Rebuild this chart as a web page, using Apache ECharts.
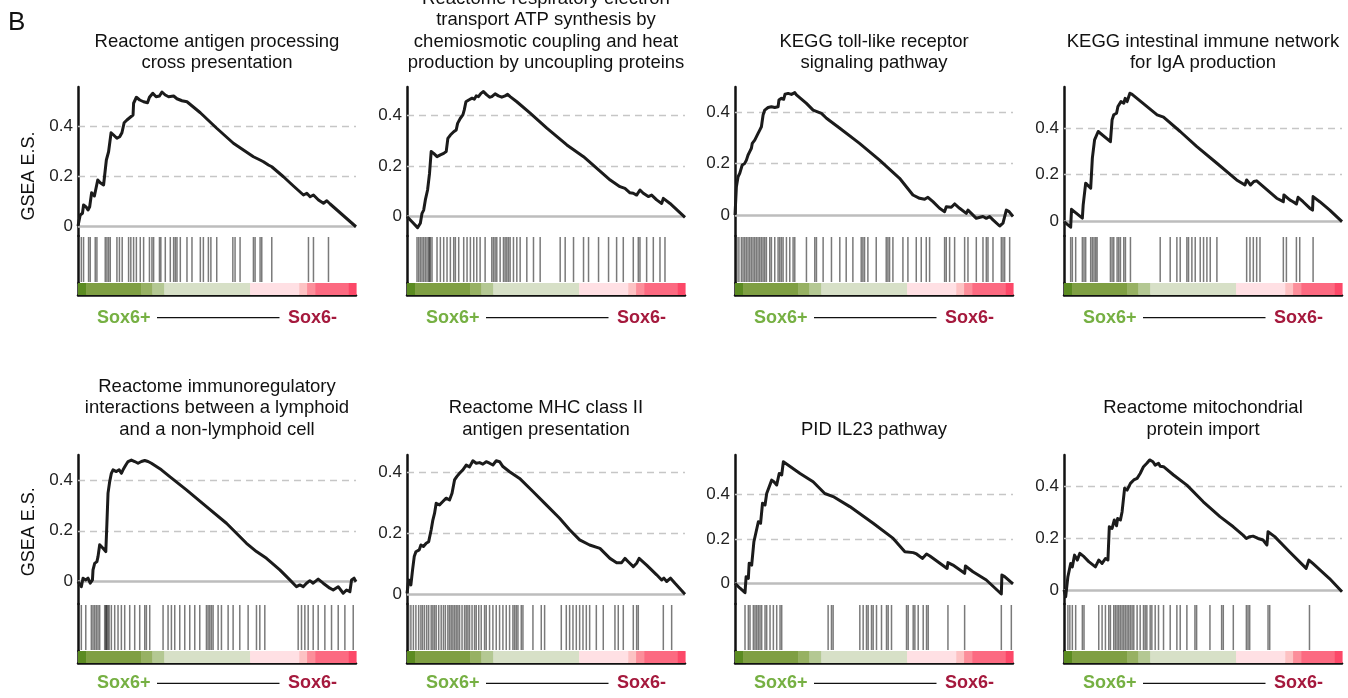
<!DOCTYPE html>
<html><head><meta charset="utf-8">
<script src="https://cdn.jsdelivr.net/npm/echarts@6/dist/echarts.min.js"></script>
<style>html,body{margin:0;padding:0;background:#fff}#c{width:1348px;height:698px}</style>
</head><body><div id="c"></div>
<script>
const FONT = "'Liberation Sans', Arial, Helvetica, sans-serif";

const titles = [
  'Reactome antigen processing\ncross presentation',
  'Reactome respiratory electron\ntransport ATP synthesis by\nchemiosmotic coupling and heat\nproduction by uncoupling proteins',
  'KEGG toll-like receptor\nsignaling pathway',
  'KEGG intestinal immune network\nfor IgA production',
  'Reactome immunoregulatory\ninteractions between a lymphoid\nand a non-lymphoid cell',
  'Reactome MHC class II\nantigen presentation',
  'PID IL23 pathway',
  'Reactome mitochondrial\nprotein import'
];
const yTickValues = [0, 0.2, 0.4];
const groupLabels = ['Sox6+', 'Sox6-'];
const yAxisTitle = 'GSEA E.S.';

// running enrichment score: [rank fraction, ES]
const es1 = [[0,0],[0.008,0.044],[0.016,0.051],[0.020,0.084],[0.030,0.075],[0.036,0.064],[0.042,0.077],[0.049,0.133],[0.059,0.120],[0.065,0.124],[0.071,0.184],[0.080,0.173],[0.092,0.164],[0.099,0.157],[0.102,0.264],[0.110,0.297],[0.119,0.373],[0.128,0.364],[0.140,0.351],[0.150,0.357],[0.158,0.373],[0.166,0.413],[0.176,0.424],[0.188,0.435],[0.198,0.444],[0.200,0.491],[0.210,0.515],[0.222,0.504],[0.236,0.497],[0.250,0.493],[0.257,0.515],[0.269,0.531],[0.281,0.517],[0.293,0.520],[0.302,0.536],[0.314,0.524],[0.326,0.517],[0.344,0.520],[0.356,0.509],[0.374,0.501],[0.392,0.497],[0.440,0.453],[0.499,0.391],[0.559,0.331],[0.631,0.277],[0.655,0.264],[0.667,0.257],[0.685,0.244],[0.697,0.237],[0.739,0.197],[0.775,0.160],[0.811,0.124],[0.823,0.131],[0.835,0.117],[0.847,0.124],[0.865,0.104],[0.883,0.091],[0.895,0.101],[0.907,0.088],[1,-0.003]];
const es2 = [[0,0],[0.018,-0.020],[0.038,-0.043],[0.048,-0.026],[0.054,0.013],[0.060,0.026],[0.066,0.066],[0.074,0.105],[0.081,0.170],[0.087,0.256],[0.096,0.249],[0.108,0.236],[0.120,0.243],[0.132,0.249],[0.141,0.256],[0.147,0.308],[0.156,0.321],[0.168,0.334],[0.177,0.341],[0.182,0.367],[0.192,0.387],[0.201,0.400],[0.206,0.420],[0.212,0.452],[0.222,0.459],[0.234,0.466],[0.242,0.462],[0.249,0.475],[0.257,0.472],[0.266,0.485],[0.275,0.492],[0.287,0.479],[0.297,0.470],[0.305,0.472],[0.317,0.483],[0.329,0.475],[0.341,0.470],[0.353,0.475],[0.362,0.481],[0.371,0.472],[0.395,0.452],[0.443,0.407],[0.503,0.348],[0.575,0.282],[0.635,0.236],[0.683,0.190],[0.731,0.144],[0.766,0.118],[0.784,0.111],[0.802,0.094],[0.814,0.092],[0.826,0.085],[0.838,0.105],[0.850,0.092],[0.868,0.079],[0.880,0.085],[0.898,0.066],[0.916,0.052],[0.922,0.072],[0.946,0.052],[1,-0.003]];
const es3 = [[0,0],[0.005,0.110],[0.011,0.149],[0.017,0.162],[0.023,0.156],[0.026,0.195],[0.035,0.201],[0.041,0.214],[0.047,0.234],[0.053,0.247],[0.059,0.260],[0.062,0.279],[0.071,0.292],[0.077,0.299],[0.083,0.318],[0.089,0.331],[0.095,0.344],[0.101,0.390],[0.107,0.409],[0.119,0.419],[0.131,0.422],[0.143,0.419],[0.155,0.422],[0.158,0.448],[0.167,0.455],[0.175,0.451],[0.180,0.471],[0.191,0.474],[0.203,0.470],[0.215,0.477],[0.221,0.468],[0.257,0.435],[0.281,0.409],[0.311,0.396],[0.329,0.377],[0.377,0.338],[0.448,0.279],[0.520,0.214],[0.592,0.143],[0.640,0.078],[0.664,0.065],[0.682,0.061],[0.694,0.069],[0.712,0.052],[0.736,0.026],[0.754,0.013],[0.760,0.032],[0.778,0.030],[0.790,0.043],[0.808,0.026],[0.832,0.006],[0.838,0.019],[0.850,0.006],[0.868,-0.013],[0.892,-0.006],[0.904,-0.013],[0.916,-0.006],[0.928,-0.019],[0.952,-0.043],[0.964,-0.032],[0.976,0.019],[0.986,0.013],[1,-0.006]];
const es4 = [[0,-0.003],[0.024,-0.027],[0.027,0.050],[0.066,0.012],[0.069,0.069],[0.075,0.062],[0.078,0.163],[0.096,0.141],[0.102,0.271],[0.108,0.263],[0.110,0.350],[0.116,0.342],[0.123,0.386],[0.167,0.342],[0.173,0.436],[0.179,0.458],[0.189,0.465],[0.194,0.494],[0.201,0.486],[0.205,0.515],[0.215,0.508],[0.220,0.529],[0.227,0.515],[0.237,0.551],[0.245,0.546],[0.335,0.458],[0.358,0.448],[0.418,0.386],[0.478,0.321],[0.550,0.249],[0.621,0.177],[0.651,0.155],[0.657,0.177],[0.671,0.155],[0.683,0.170],[0.693,0.173],[0.717,0.148],[0.765,0.098],[0.789,0.083],[0.791,0.112],[0.812,0.091],[0.824,0.083],[0.836,0.073],[0.842,0.102],[0.860,0.083],[0.884,0.055],[0.894,0.047],[0.896,0.105],[0.920,0.083],[0.956,0.047],[1,-0.003]];
const es5 = [[0,-0.003],[0.012,-0.023],[0.018,0.011],[0.028,0.004],[0.036,0.011],[0.044,-0.009],[0.052,0.004],[0.054,0.044],[0.060,0.070],[0.068,0.077],[0.072,0.097],[0.078,0.144],[0.090,0.130],[0.100,0.117],[0.104,0.230],[0.108,0.350],[0.114,0.396],[0.120,0.429],[0.126,0.443],[0.138,0.436],[0.148,0.443],[0.156,0.429],[0.162,0.443],[0.172,0.462],[0.180,0.476],[0.192,0.482],[0.204,0.476],[0.216,0.469],[0.228,0.476],[0.240,0.480],[0.252,0.476],[0.264,0.469],[0.282,0.456],[0.300,0.443],[0.330,0.416],[0.390,0.363],[0.462,0.296],[0.534,0.230],[0.606,0.150],[0.642,0.117],[0.678,0.090],[0.726,0.044],[0.762,0.004],[0.786,-0.023],[0.798,-0.016],[0.810,-0.023],[0.822,-0.009],[0.834,0.001],[0.846,-0.009],[0.864,0.007],[0.882,-0.009],[0.906,-0.029],[0.918,-0.036],[0.936,-0.023],[0.954,-0.049],[0.966,-0.036],[0.978,-0.043],[0.984,0.004],[0.993,0.011],[1,-0.003]];
const es6 = [[0,0.003],[0.006,0.047],[0.014,0.031],[0.020,0.080],[0.026,0.124],[0.032,0.140],[0.038,0.135],[0.044,0.146],[0.050,0.162],[0.059,0.157],[0.069,0.168],[0.078,0.173],[0.087,0.212],[0.093,0.244],[0.099,0.266],[0.105,0.299],[0.117,0.294],[0.129,0.305],[0.141,0.316],[0.153,0.310],[0.162,0.332],[0.171,0.376],[0.179,0.387],[0.189,0.398],[0.201,0.409],[0.213,0.425],[0.225,0.419],[0.237,0.439],[0.249,0.431],[0.261,0.433],[0.273,0.428],[0.285,0.436],[0.297,0.431],[0.309,0.425],[0.321,0.439],[0.333,0.436],[0.345,0.420],[0.369,0.403],[0.405,0.381],[0.453,0.338],[0.501,0.294],[0.549,0.250],[0.585,0.212],[0.621,0.179],[0.657,0.162],[0.694,0.151],[0.730,0.118],[0.754,0.104],[0.772,0.104],[0.784,0.118],[0.796,0.107],[0.814,0.091],[0.826,0.102],[0.835,0.118],[0.862,0.096],[0.898,0.064],[0.916,0.047],[0.924,0.053],[0.934,0.042],[0.948,0.053],[0.964,0.036],[1,0]];
const es7 = [[0,0],[0.018,-0.022],[0.036,-0.042],[0.040,0.030],[0.048,0.022],[0.051,0.090],[0.060,0.082],[0.068,0.187],[0.075,0.180],[0.084,0.277],[0.092,0.270],[0.099,0.360],[0.108,0.352],[0.114,0.404],[0.120,0.397],[0.132,0.464],[0.140,0.457],[0.150,0.442],[0.159,0.494],[0.168,0.487],[0.174,0.547],[0.180,0.539],[0.234,0.494],[0.281,0.457],[0.323,0.404],[0.353,0.390],[0.413,0.345],[0.497,0.270],[0.569,0.202],[0.611,0.142],[0.641,0.138],[0.653,0.132],[0.674,0.112],[0.689,0.132],[0.701,0.123],[0.763,0.067],[0.766,0.093],[0.784,0.082],[0.826,0.045],[0.829,0.078],[0.856,0.052],[0.904,0.015],[0.958,-0.048],[0.960,0.037],[0.970,0.030],[1,-0.003]];
const es8 = [[0,0.003],[0.006,-0.023],[0.012,-0.017],[0.014,0.054],[0.020,0.060],[0.024,0.105],[0.030,0.092],[0.038,0.137],[0.048,0.118],[0.057,0.144],[0.072,0.131],[0.089,0.112],[0.113,0.092],[0.125,0.118],[0.137,0.105],[0.149,0.124],[0.158,0.118],[0.163,0.246],[0.173,0.240],[0.181,0.272],[0.189,0.250],[0.193,0.278],[0.203,0.272],[0.209,0.304],[0.215,0.310],[0.218,0.394],[0.227,0.387],[0.239,0.413],[0.251,0.426],[0.263,0.432],[0.274,0.451],[0.286,0.477],[0.298,0.490],[0.308,0.503],[0.320,0.496],[0.328,0.483],[0.340,0.490],[0.346,0.479],[0.358,0.477],[0.394,0.445],[0.442,0.406],[0.501,0.342],[0.561,0.285],[0.609,0.246],[0.644,0.214],[0.656,0.201],[0.668,0.208],[0.680,0.210],[0.698,0.201],[0.716,0.195],[0.730,0.176],[0.734,0.227],[0.758,0.208],[0.811,0.150],[0.871,0.086],[0.881,0.118],[0.895,0.105],[0.955,0.047],[1,-0.004]];

// gene-set hit positions (rank fraction)
const hits1 = [0.012,0.020,0.038,0.044,0.062,0.068,0.098,0.104,0.110,0.116,0.140,0.149,0.159,0.182,0.190,0.200,0.210,0.224,0.236,0.257,0.266,0.272,0.293,0.298,0.314,0.332,0.344,0.350,0.356,0.368,0.392,0.410,0.440,0.451,0.469,0.478,0.499,0.557,0.565,0.583,0.631,0.637,0.655,0.661,0.697,0.829,0.847,0.901];
const hits2 = [0.036,0.042,0.048,0.054,0.060,0.066,0.072,0.078,0.081,0.084,0.090,0.108,0.120,0.132,0.144,0.156,0.168,0.174,0.186,0.204,0.216,0.228,0.240,0.251,0.263,0.281,0.305,0.311,0.317,0.323,0.335,0.347,0.353,0.359,0.365,0.371,0.383,0.395,0.407,0.431,0.455,0.479,0.551,0.569,0.599,0.635,0.653,0.689,0.725,0.754,0.778,0.814,0.832,0.838,0.862,0.886,0.910,0.928];
const hits3 = [0.007,0.014,0.023,0.029,0.035,0.041,0.047,0.053,0.059,0.065,0.071,0.077,0.083,0.089,0.095,0.101,0.107,0.113,0.125,0.131,0.143,0.155,0.161,0.167,0.173,0.185,0.197,0.209,0.215,0.257,0.287,0.293,0.317,0.347,0.377,0.400,0.424,0.454,0.460,0.466,0.478,0.508,0.544,0.550,0.556,0.568,0.604,0.622,0.652,0.670,0.688,0.700,0.754,0.760,0.772,0.790,0.826,0.838,0.868,0.892,0.904,0.910,0.928,0.958,0.964,0.970,0.988];
const hits4 = [0.024,0.030,0.042,0.066,0.072,0.078,0.096,0.102,0.108,0.114,0.119,0.167,0.173,0.179,0.191,0.197,0.203,0.215,0.221,0.239,0.346,0.382,0.406,0.418,0.442,0.448,0.460,0.472,0.490,0.502,0.514,0.526,0.550,0.657,0.669,0.681,0.693,0.705,0.789,0.800,0.836,0.848,0.896];
const hits5 = [0.012,0.028,0.048,0.054,0.060,0.066,0.072,0.078,0.096,0.100,0.102,0.104,0.108,0.112,0.120,0.132,0.144,0.156,0.168,0.186,0.204,0.222,0.240,0.246,0.258,0.306,0.324,0.336,0.348,0.366,0.384,0.402,0.420,0.438,0.462,0.468,0.474,0.480,0.486,0.504,0.516,0.540,0.558,0.582,0.612,0.642,0.654,0.672,0.792,0.804,0.816,0.828,0.846,0.864,0.888,0.912,0.936,0.960,0.990];
const hits6 = [0.006,0.014,0.023,0.032,0.042,0.050,0.056,0.063,0.071,0.078,0.087,0.093,0.099,0.105,0.114,0.123,0.131,0.138,0.147,0.153,0.159,0.165,0.171,0.177,0.183,0.189,0.198,0.207,0.213,0.219,0.225,0.234,0.243,0.249,0.258,0.267,0.279,0.285,0.297,0.309,0.321,0.333,0.345,0.357,0.369,0.381,0.387,0.393,0.399,0.411,0.417,0.453,0.483,0.495,0.555,0.573,0.585,0.597,0.609,0.621,0.633,0.645,0.657,0.681,0.706,0.748,0.760,0.778,0.814,0.826,0.832,0.922,0.952];
const hits7 = [0.036,0.048,0.054,0.066,0.072,0.078,0.084,0.090,0.096,0.108,0.114,0.126,0.138,0.150,0.162,0.168,0.335,0.347,0.353,0.449,0.461,0.473,0.479,0.491,0.497,0.509,0.527,0.545,0.551,0.563,0.617,0.623,0.641,0.647,0.659,0.677,0.689,0.695,0.766,0.826,0.958,0.994];
const hits8 = [0.014,0.021,0.030,0.042,0.066,0.072,0.125,0.137,0.149,0.161,0.167,0.179,0.185,0.191,0.197,0.203,0.209,0.215,0.221,0.227,0.233,0.239,0.245,0.251,0.263,0.274,0.286,0.292,0.298,0.310,0.316,0.328,0.340,0.358,0.382,0.406,0.418,0.442,0.471,0.477,0.525,0.567,0.573,0.609,0.656,0.662,0.668,0.734,0.740,0.883];

// ranked-list metric colour bar
const colorBounds = [0, 0.029, 0.227, 0.267, 0.310, 0.619, 0.796, 0.824, 0.854, 0.974, 1];
const colorBarColors = ['#5b8b21','#7f9f43','#97b163','#b4c893','#d7e0c7','#ffe0e4','#fdc2c3','#fc8e9a','#fc6a81','#fc4868'];

const esList = [es1, es2, es3, es4, es5, es6, es7, es8];
const hitList = [hits1, hits2, hits3, hits4, hits5, hits6, hits7, hits8];
// axis ranges of the ES panels
const yMins = [-0.040, -0.076, -0.082, -0.065, -0.092, -0.032, -0.093, -0.051];
const yMaxs = [0.556, 0.510, 0.499, 0.578, 0.502, 0.458, 0.577, 0.522];

const colLeft = [78, 407, 735, 1064], rowTop = [87, 455], W = 278;
const titleBottom = [74.1, 440.8], labelY = [317.6, 683.4], gseaY = [176, 531.7];
const GREEN = '#76b043', RED = '#a5193d';

const grids = [], xAxes = [], yAxes = [], series = [], graphics = [];
const colorData = colorBarColors.map((c, k) => [colorBounds[k], colorBounds[k + 1], 0.5, k]);
const axisLine = {show: true, onZero: false, lineStyle: {color: '#111', width: 2.5}};
const noTick = {show: false}, noLabel = {show: false}, noSplit = {show: false};

esList.forEach((es, i) => {
  const c = i % 4, r = Math.floor(i / 4), L = colLeft[c], T = rowTop[r];
  const g = grids.length;
  grids.push({left: L, top: T, width: W, height: 149});
  grids.push({left: L, top: T + 149, width: W, height: 47});
  grids.push({left: L, top: T + 196, width: W, height: 12});
  xAxes.push({gridIndex: g, type: 'value', min: 0, max: 1, show: false});
  xAxes.push({gridIndex: g + 1, type: 'value', min: 0, max: 1, show: false});
  xAxes.push({gridIndex: g + 2, type: 'value', min: 0, max: 1, axisLine, axisTick: noTick, axisLabel: noLabel, splitLine: noSplit});
  yAxes.push({gridIndex: g, type: 'value', min: yMins[i], max: yMaxs[i], axisLine, axisTick: noTick, splitLine: noSplit,
    axisLabel: {customValues: yTickValues, formatter: v => (Math.abs(v) < 1e-9 ? '0' : v.toFixed(1)), fontSize: 17, color: '#222', margin: 5, fontFamily: FONT}});
  yAxes.push({gridIndex: g + 1, type: 'value', min: 0, max: 1, axisLine, axisTick: noTick, axisLabel: noLabel, splitLine: noSplit});
  yAxes.push({gridIndex: g + 2, type: 'value', min: 0, max: 1, axisLine, axisTick: noTick, axisLabel: noLabel, splitLine: noSplit});

  // reference lines (zero + dashed grid), kept under the curve
  series.push({type: 'line', xAxisIndex: g, yAxisIndex: g, data: es, showSymbol: false, symbol: 'none', silent: true, z: 1,
    lineStyle: {opacity: 0}, animation: false,
    markLine: {silent: true, z: 1, symbol: 'none', label: {show: false}, animation: false,
      data: [
        {yAxis: 0, lineStyle: {color: '#bdbdbd', width: 2.5, type: 'solid'}},
        {yAxis: 0.2, lineStyle: {color: '#c6c6c6', width: 1.4, type: [7, 5]}},
        {yAxis: 0.4, lineStyle: {color: '#c6c6c6', width: 1.4, type: [7, 5]}}
      ]}});
  // ES curve
  series.push({type: 'line', xAxisIndex: g, yAxisIndex: g, data: es, showSymbol: false, symbol: 'none', silent: true, z: 10,
    lineStyle: {color: '#1b1b1b', width: 3, join: 'round'}, animation: false});
  // hit barcode
  series.push({type: 'custom', xAxisIndex: g + 1, yAxisIndex: g + 1, silent: true, animation: false,
    data: hitList[i].map(h => [h, 0.5]), encode: {x: 0, y: 1},
    renderItem: (params, api) => {
      const a = api.coord([api.value(0), 1]), b = api.coord([api.value(0), 0]);
      return {type: 'line', shape: {x1: a[0], y1: a[1] + 1, x2: a[0], y2: b[1] - 1}, style: {stroke: 'rgba(40,40,40,0.62)', lineWidth: 1.5}};
    }});
  // colour bar
  series.push({type: 'custom', xAxisIndex: g + 2, yAxisIndex: g + 2, silent: true, animation: false,
    data: colorData, encode: {x: [0, 1], y: 2},
    renderItem: (params, api) => {
      const a = api.coord([api.value(0), 1]), b = api.coord([api.value(1), 0]);
      return {type: 'rect', shape: {x: a[0], y: a[1], width: b[0] - a[0] + 0.6, height: b[1] - a[1]}, style: {fill: colorBarColors[api.value(3)]}};
    }});

  // titles and group labels
  graphics.push({type: 'text', x: L + W / 2, y: titleBottom[r], silent: true,
    style: {text: titles[i], align: 'center', verticalAlign: 'bottom', fontSize: 18.5, lineHeight: 21.6, fontFamily: FONT, fill: '#111'}});
  graphics.push({type: 'text', x: L + 19, y: labelY[r], silent: true,
    style: {text: groupLabels[0], align: 'left', verticalAlign: 'middle', fontSize: 18, fontWeight: 'bold', fontFamily: FONT, fill: GREEN}});
  graphics.push({type: 'line', silent: true, shape: {x1: L + 79, y1: labelY[r], x2: L + 201.5, y2: labelY[r]}, style: {stroke: '#111', lineWidth: 1.3}});
  graphics.push({type: 'text', x: L + 210, y: labelY[r], silent: true,
    style: {text: groupLabels[1], align: 'left', verticalAlign: 'middle', fontSize: 18, fontWeight: 'bold', fontFamily: FONT, fill: RED}});
});

graphics.push({type: 'text', x: 8, y: 23, silent: true, style: {text: 'B', align: 'left', verticalAlign: 'middle', fontSize: 26, fontFamily: FONT, fill: '#111'}});
gseaY.forEach(y => graphics.push({type: 'text', x: 29, y: y, rotation: Math.PI / 2, silent: true,
  style: {text: yAxisTitle, align: 'center', verticalAlign: 'middle', fontSize: 18, fontFamily: FONT, fill: '#111'}}));

const chart = echarts.init(document.getElementById('c'));
chart.setOption({animation: false, backgroundColor: '#fff', grid: grids, xAxis: xAxes, yAxis: yAxes, series, graphic: graphics});
</script></body></html>
